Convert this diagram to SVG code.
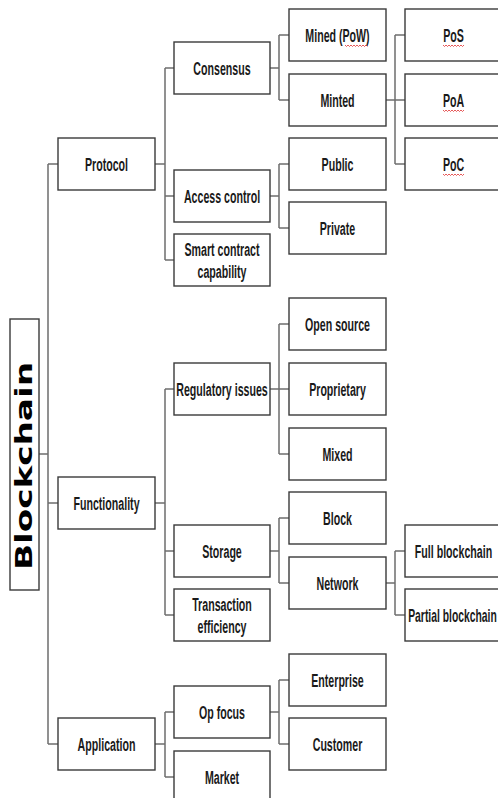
<svg xmlns="http://www.w3.org/2000/svg" width="498" height="798" viewBox="0 0 498 798">
<style>
rect.n{fill:#fff;stroke:#3a3a3a;stroke-width:1.4}
.c path{fill:none;stroke:#6e6e6e;stroke-width:1.5}
text.t{font-family:"Liberation Sans",Arial,sans-serif;font-weight:bold;font-size:19px;fill:#1a1a1a;text-anchor:middle}
text.b{font-family:"DejaVu Sans",Verdana,sans-serif;font-weight:bold;font-size:23px;fill:#000;text-anchor:middle}
path.w{fill:none;stroke:#e03030;stroke-width:0.8}
</style>
<rect width="498" height="798" fill="#fff"/>
<g class="c" id="connectors">
<path d="M39,454H48M48,164V744M48,164H58M48,503H58M48,744H58"/>
<path d="M155,164H165M165,68V260M165,68H174M165,196H174M165,260H174"/>
<path d="M155,503H165M165,389V615M165,389H174M165,551H174M165,615H174"/>
<path d="M155,744H165M165,712V777M165,712H174M165,777H174"/>
<path d="M270,68H279M279,35V100M279,35H289M279,100H289"/>
<path d="M270,196H279M279,164V228M279,164H289M279,228H289"/>
<path d="M270,389H279M279,324V454M279,324H289M279,389H289M279,454H289"/>
<path d="M270,551H279M279,518V583M279,518H289M279,583H289"/>
<path d="M270,712H279M279,680V744M279,680H289M279,744H289"/>
<path d="M386,100H395M395,35V164M395,35H405M395,100H405M395,164H405"/>
<path d="M386,583H395M395,551V615M395,551H405M395,615H405"/>
</g>
<g id="blockchain"><rect class="n" x="10" y="319" width="29" height="271"/><text class="b" transform="translate(32,466) rotate(-90)" textLength="208" lengthAdjust="spacingAndGlyphs">Blockchain</text></g>
<g id="protocol"><rect class="n" x="58" y="138" width="97" height="52"/><text class="t" transform="translate(106.5,171) scale(0.56,1)">Protocol</text></g>
<g id="functionality"><rect class="n" x="58" y="477" width="97" height="52"/><text class="t" transform="translate(106.5,510) scale(0.56,1)">Functionality</text></g>
<g id="application"><rect class="n" x="58" y="718" width="97" height="52"/><text class="t" transform="translate(106.5,751) scale(0.56,1)">Application</text></g>
<g id="consensus"><rect class="n" x="174" y="42" width="96" height="52"/><text class="t" transform="translate(222,75) scale(0.56,1)">Consensus</text></g>
<g id="access-control"><rect class="n" x="174" y="170" width="96" height="52"/><text class="t" transform="translate(222,203) scale(0.56,1)">Access control</text></g>
<g id="smart-contract"><rect class="n" x="174" y="234" width="96" height="52"/><text class="t" transform="translate(222,256) scale(0.56,1)">Smart contract</text><text class="t" transform="translate(222,278) scale(0.56,1)">capability</text></g>
<g id="regulatory"><rect class="n" x="174" y="363" width="96" height="52"/><text class="t" transform="translate(222,396) scale(0.56,1)">Regulatory issues</text></g>
<g id="storage"><rect class="n" x="174" y="525" width="96" height="52"/><text class="t" transform="translate(222,558) scale(0.56,1)">Storage</text></g>
<g id="transaction"><rect class="n" x="174" y="589" width="96" height="52"/><text class="t" transform="translate(222,611) scale(0.56,1)">Transaction</text><text class="t" transform="translate(222,633) scale(0.56,1)">efficiency</text></g>
<g id="op-focus"><rect class="n" x="174" y="686" width="96" height="52"/><text class="t" transform="translate(222,719) scale(0.56,1)">Op focus</text></g>
<g id="market"><rect class="n" x="174" y="751" width="96" height="52"/><text class="t" transform="translate(222,784) scale(0.56,1)">Market</text></g>
<g id="mined"><rect class="n" x="289" y="9" width="97" height="52"/><text class="t" transform="translate(337.5,42) scale(0.56,1)">Mined (PoW)</text><path class="w" d="M345,45l1.5,1.5l1.5,-1.5l1.5,1.5l1.5,-1.5l1.5,1.5l1.5,-1.5l1.5,1.5l1.5,-1.5l1.5,1.5l1.5,-1.5l1.5,1.5l1.5,-1.5l1.5,1.5l1.5,-1.5l1.5,1.5"/></g>
<g id="minted"><rect class="n" x="289" y="74" width="97" height="52"/><text class="t" transform="translate(337.5,107) scale(0.56,1)">Minted</text></g>
<g id="public"><rect class="n" x="289" y="138" width="97" height="52"/><text class="t" transform="translate(337.5,171) scale(0.56,1)">Public</text></g>
<g id="private"><rect class="n" x="289" y="202" width="97" height="52"/><text class="t" transform="translate(337.5,235) scale(0.56,1)">Private</text></g>
<g id="open-source"><rect class="n" x="289" y="298" width="97" height="52"/><text class="t" transform="translate(337.5,331) scale(0.56,1)">Open source</text></g>
<g id="proprietary"><rect class="n" x="289" y="363" width="97" height="52"/><text class="t" transform="translate(337.5,396) scale(0.56,1)">Proprietary</text></g>
<g id="mixed"><rect class="n" x="289" y="428" width="97" height="52"/><text class="t" transform="translate(337.5,461) scale(0.56,1)">Mixed</text></g>
<g id="block"><rect class="n" x="289" y="492" width="97" height="52"/><text class="t" transform="translate(337.5,525) scale(0.56,1)">Block</text></g>
<g id="network"><rect class="n" x="289" y="557" width="97" height="52"/><text class="t" transform="translate(337.5,590) scale(0.56,1)">Network</text></g>
<g id="enterprise"><rect class="n" x="289" y="654" width="97" height="52"/><text class="t" transform="translate(337.5,687) scale(0.56,1)">Enterprise</text></g>
<g id="customer"><rect class="n" x="289" y="718" width="97" height="52"/><text class="t" transform="translate(337.5,751) scale(0.56,1)">Customer</text></g>
<g id="pos"><rect class="n" x="405" y="9" width="97" height="52"/><text class="t" transform="translate(453.5,42) scale(0.56,1)">PoS</text><path class="w" d="M443,45l1.5,1.5l1.5,-1.5l1.5,1.5l1.5,-1.5l1.5,1.5l1.5,-1.5l1.5,1.5l1.5,-1.5l1.5,1.5l1.5,-1.5l1.5,1.5l1.5,-1.5l1.5,1.5l1.5,-1.5"/></g>
<g id="poa"><rect class="n" x="405" y="74" width="97" height="52"/><text class="t" transform="translate(453.5,107) scale(0.56,1)">PoA</text><path class="w" d="M443,110l1.5,1.5l1.5,-1.5l1.5,1.5l1.5,-1.5l1.5,1.5l1.5,-1.5l1.5,1.5l1.5,-1.5l1.5,1.5l1.5,-1.5l1.5,1.5l1.5,-1.5l1.5,1.5l1.5,-1.5"/></g>
<g id="poc"><rect class="n" x="405" y="138" width="97" height="52"/><text class="t" transform="translate(453.5,171) scale(0.56,1)">PoC</text><path class="w" d="M443,174l1.5,1.5l1.5,-1.5l1.5,1.5l1.5,-1.5l1.5,1.5l1.5,-1.5l1.5,1.5l1.5,-1.5l1.5,1.5l1.5,-1.5l1.5,1.5l1.5,-1.5l1.5,1.5l1.5,-1.5"/></g>
<g id="full-blockchain"><rect class="n" x="405" y="525" width="97" height="52"/><text class="t" transform="translate(453.5,558) scale(0.56,1)">Full blockchain</text></g>
<g id="partial-blockchain"><rect class="n" x="405" y="589" width="97" height="52"/><text class="t" transform="translate(452.5,622) scale(0.545,1)">Partial blockchain</text></g>
</svg>
